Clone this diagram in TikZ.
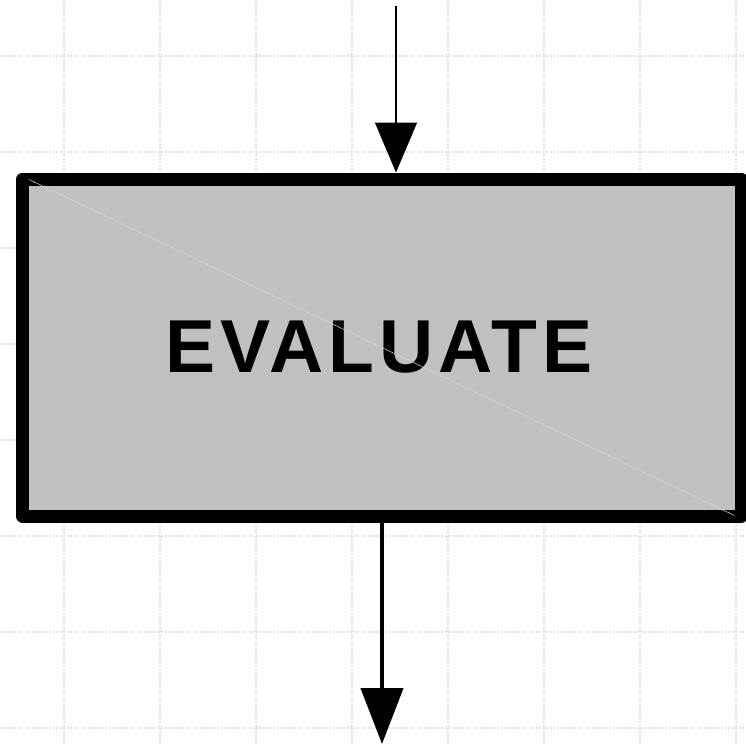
\documentclass[tikz,border=0pt]{standalone}
\usepackage{fontspec}
\setmainfont{Liberation Sans}
\newfontfamily\boxfont[LetterSpace=6.5]{Liberation Sans}
\usetikzlibrary{arrows.meta,calc}
\definecolor{boxfill}{HTML}{C0C0C0}
\definecolor{gridgray}{HTML}{E2E2E2}

\begin{document}
\begin{tikzpicture}[x=1pt,y=-1pt,
  gridline/.style={gridgray,line width=1.2pt,dash pattern=on 2pt off 1.5pt},
  stepbox/.style={draw,line width=13pt,line join=round,fill=boxfill,
    minimum width=718.5pt,minimum height=337pt,inner sep=0pt,
    font=\boxfont\bfseries\fontsize{75}{90}\selectfont}]
\useasboundingbox (0,0) rectangle (746,744);
% grid behind the box
\foreach \x in {64,160,...,736} \draw[gridline] (\x,0) -- (\x,744);
\foreach \y in {56,152,...,728} \draw[gridline] (0,\y) -- (746,\y);
% the box
\node[stepbox] (evaluate) at (381.75,347.5) {EVALUATE\hspace*{6pt}};
\draw[white!40!boxfill,line width=0.5pt] ($(evaluate.north west)+(13,7)$) -- ($(evaluate.south east)+(-13,-7)$);
% in and out
\coordinate (in) at (396,6);
\coordinate (out) at (382,744);
\draw[line width=1.5pt,-{Triangle[width=42pt,length=50pt]}] (in) -- (in |- evaluate.north);
\draw[line width=4.5pt,-{Triangle[width=42pt,length=56pt]}] (evaluate.south -| out) -- (out);
\end{tikzpicture}
\end{document}
